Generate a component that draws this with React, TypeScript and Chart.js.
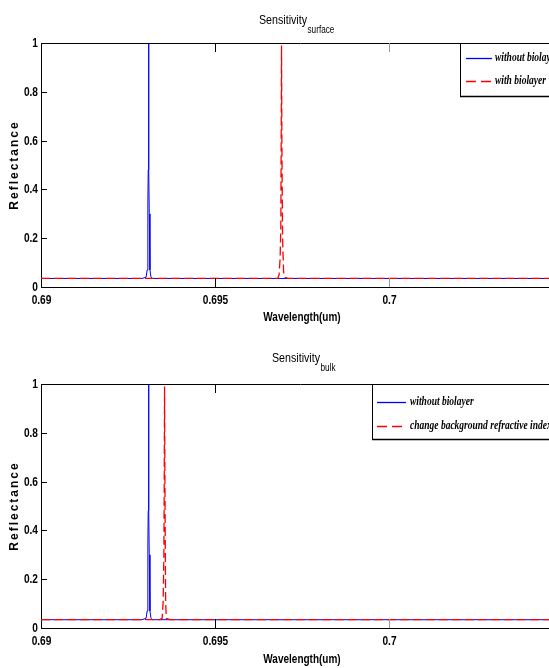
import React, { useEffect, useRef } from 'react';
import { Chart, registerables } from 'chart.js';
Chart.register(...registerables);

const X_MIN = 0.69;
const X_MAX = 0.70491;
const xTickValues = [0.69, 0.695, 0.7];
const yTickValues = [0, 0.2, 0.4, 0.6, 0.8, 1];

// Sensitivity_surface
const surfBlueWl = [0.69, 0.6929, 0.69302, 0.69305, 0.69307, 0.69308, 0.69309, 0.6931, 0.69311, 0.69313, 0.69316, 0.6932, 0.70491];
const surfBlueR = [0.035, 0.035, 0.04, 0.07, 0.34, 0.48, 1.0, 0.48, 0.3, 0.07, 0.04, 0.035, 0.035];
const surfRedWl = [0.69, 0.6968, 0.69684, 0.69687, 0.69689, 0.6969, 0.69691, 0.69692, 0.69694, 0.69697, 0.697, 0.6971, 0.70491];
const surfRedR = [0.035, 0.035, 0.05, 0.12, 0.25, 0.6, 0.99, 0.6, 0.2, 0.06, 0.04, 0.035, 0.035];

// Sensitivity_bulk
const bulkBlueWl = [0.69, 0.6929, 0.69302, 0.69305, 0.69307, 0.69308, 0.69309, 0.6931, 0.69311, 0.69313, 0.69316, 0.6932, 0.70491];
const bulkBlueR = [0.034, 0.034, 0.04, 0.07, 0.34, 0.48, 1.0, 0.48, 0.3, 0.07, 0.04, 0.034, 0.034];
const bulkRedWl = [0.69, 0.6934, 0.69348, 0.69351, 0.69353, 0.69354, 0.69355, 0.69356, 0.69358, 0.6936, 0.6937, 0.70491];
const bulkRedR = [0.034, 0.034, 0.04, 0.11, 0.3, 0.6, 0.99, 0.6, 0.11, 0.04, 0.034, 0.034];

const surfLegend = ['without biolayer', 'with biolayer'];
const bulkLegend = ['without biolayer', 'change background refractive index'];

const SANS = "'Liberation Sans',Arial,sans-serif";
const SERIF = "'Liberation Serif','Times New Roman',serif";

const CW = 560;
const CH = 334;

type Cfg = {
  padTop: number;
  xAxisH: number;
  titleSub: string;
  titleX: number;
  titleY: number;
  xLabelY: number;
  legend: string[];
  legBox: { left: number; top: number; bottom: number; row1: number; row2: number; lineX0: number; lineX1: number; textX: number };
};

function fmtX(v: number) {
  return String(Number(v.toFixed(4)));
}
function fmtY(v: number) {
  if (v === 0) return '0';
  if (v === 1) return '1';
  return v.toFixed(1);
}

function drawScaled(ctx: CanvasRenderingContext2D, text: string, x: number, y: number, font: string, sx: number, align: CanvasTextAlign) {
  ctx.save();
  ctx.font = font;
  ctx.textAlign = align;
  ctx.textBaseline = 'middle';
  ctx.translate(x, y);
  ctx.scale(sx, 1);
  ctx.fillText(text, 0, 0);
  const w = ctx.measureText(text).width * sx;
  ctx.restore();
  return w;
}

function makeDecor(cfg: Cfg) {
  return {
    id: 'decor',
    afterDraw(chart: any) {
      const { ctx, chartArea: a, scales } = chart;
      const xs = scales.x;
      const ys = scales.y;
      ctx.save();
      // top border
      ctx.strokeStyle = '#000';
      ctx.lineWidth = 1;
      ctx.beginPath();
      ctx.moveTo(a.left, Math.round(a.top) + 0.5);
      ctx.lineTo(a.right, Math.round(a.top) + 0.5);
      ctx.stroke();
      // inward x ticks + labels
      ctx.fillStyle = '#000';
      for (const v of xTickValues) {
        const px = Math.round(xs.getPixelForValue(v)) + 0.5;
        if (v !== X_MIN) {
          ctx.strokeStyle = v === 0.7 ? '#9a9a9a' : '#000';
          ctx.beginPath();
          ctx.moveTo(px, a.bottom);
          ctx.lineTo(px, a.bottom - 9);
          ctx.moveTo(px, a.top);
          ctx.lineTo(px, a.top + 9);
          ctx.stroke();
        }
        drawScaled(ctx, fmtX(v), px, a.bottom + 13, `bold 13px ${SANS}`, 0.78, 'center');
      }
      // inward y ticks + labels
      ctx.strokeStyle = '#000';
      for (const v of yTickValues) {
        const py = Math.round(ys.getPixelForValue(v)) + 0.5;
        ctx.beginPath();
        ctx.moveTo(a.left, py);
        ctx.lineTo(a.left + 6, py);
        ctx.stroke();
        drawScaled(ctx, fmtY(v), a.left - 3, py, `bold 13px ${SANS}`, 0.78, 'right');
      }
      // title
      const w = drawScaled(ctx, 'Sensitivity', cfg.titleX, cfg.titleY, `13px ${SANS}`, 0.82, 'left');
      drawScaled(ctx, cfg.titleSub, cfg.titleX + w + 0.5, cfg.titleY + 10, `10px ${SANS}`, 0.82, 'left');
      // x label
      drawScaled(ctx, 'Wavelength(um)', 302, cfg.xLabelY, `bold 12.5px ${SANS}`, 0.8, 'center');
      // y label
      ctx.save();
      ctx.translate(15, (a.top + a.bottom) / 2);
      ctx.rotate(-Math.PI / 2);
      ctx.font = `bold 12px ${SANS}`;
      (ctx as any).letterSpacing = '2px';
      ctx.textAlign = 'center';
      ctx.textBaseline = 'middle';
      ctx.fillText('Reflectance', 0, 0);
      ctx.restore();
      // legend
      const L = cfg.legBox;
      ctx.fillStyle = '#fff';
      ctx.fillRect(L.left, L.top, CW - L.left + 5, L.bottom - L.top);
      ctx.strokeStyle = '#000';
      ctx.lineWidth = 1;
      ctx.strokeRect(L.left + 0.5, L.top + 0.5, CW - L.left + 10, L.bottom - L.top);
      ctx.beginPath();
      ctx.lineWidth = 1.4;
      ctx.moveTo(L.left, L.bottom + 0.5);
      ctx.lineTo(CW, L.bottom + 0.5);
      ctx.stroke();
      ctx.lineWidth = 1.3;
      ctx.strokeStyle = '#0000ff';
      ctx.beginPath();
      ctx.moveTo(L.lineX0, L.row1 + 0.5);
      ctx.lineTo(L.lineX1, L.row1 + 0.5);
      ctx.stroke();
      ctx.strokeStyle = '#ff0000';
      ctx.lineWidth = 1.5;
      ctx.setLineDash([10, 5]);
      ctx.beginPath();
      ctx.moveTo(L.lineX0, L.row2 + 0.5);
      ctx.lineTo(L.lineX1, L.row2 + 0.5);
      ctx.stroke();
      ctx.setLineDash([]);
      ctx.fillStyle = '#000';
      const rows = [L.row1, L.row2];
      cfg.legend.forEach((t, i) => {
        drawScaled(ctx, t, L.textX, rows[i], `italic bold 12.5px ${SERIF}`, 0.76, 'left');
      });
      ctx.restore();
    },
  };
}

function buildChart(canvas: HTMLCanvasElement, blueWl: number[], blueR: number[], redWl: number[], redR: number[], cfg: Cfg) {
  return new Chart(canvas, {
    type: 'line',
    data: {
      datasets: [
        {
          label: cfg.legend[1],
          data: redWl.map((w, i) => ({ x: w, y: redR[i] })),
          borderColor: '#ff0000',
          borderWidth: 1.3,
          borderDash: [9, 4],
          pointRadius: 0,
          tension: 0,
          fill: false,
        },
        {
          label: cfg.legend[0],
          data: blueWl.map((w, i) => ({ x: w, y: blueR[i] })),
          borderColor: '#0000ff',
          borderWidth: 1,
          pointRadius: 0,
          tension: 0,
          fill: false,
        },
      ],
    },
    options: {
      animation: false,
      responsive: false,
      maintainAspectRatio: false,
      events: [],
      layout: { padding: { top: cfg.padTop, left: 0, right: 0, bottom: 0 } },
      plugins: { legend: { display: false }, title: { display: false }, tooltip: { enabled: false } },
      scales: {
        x: {
          type: 'linear',
          min: X_MIN,
          max: X_MAX,
          grid: { display: false, drawTicks: false },
          border: { display: true, color: '#000', width: 1 },
          ticks: { display: false },
          afterBuildTicks: (s: any) => {
            s.ticks = xTickValues.map((v) => ({ value: v }));
          },
          afterFit: (s: any) => {
            s.height = cfg.xAxisH;
          },
        },
        y: {
          type: 'linear',
          min: 0,
          max: 1,
          grid: { display: false, drawTicks: false },
          border: { display: true, color: '#000', width: 1 },
          ticks: { display: false },
          afterBuildTicks: (s: any) => {
            s.ticks = yTickValues.map((v) => ({ value: v }));
          },
          afterFit: (s: any) => {
            s.width = 41;
          },
        },
      },
    },
    plugins: [makeDecor(cfg)],
  } as any);
}

const surfCfg: Cfg = {
  padTop: 43,
  xAxisH: CH - 287,
  titleSub: 'surface',
  titleX: 259,
  titleY: 20,
  xLabelY: 318,
  legend: surfLegend,
  legBox: { left: 460, top: 43, bottom: 96, row1: 58, row2: 81, lineX0: 466, lineX1: 492, textX: 495 },
};

const bulkCfg: Cfg = {
  padTop: 50,
  xAxisH: CH - 294,
  titleSub: 'bulk',
  titleX: 272,
  titleY: 24,
  xLabelY: 326,
  legend: bulkLegend,
  legBox: { left: 372, top: 50, bottom: 105, row1: 68, row2: 92, lineX0: 377, lineX1: 406, textX: 410 },
};

export default function App() {
  const ref1 = useRef<HTMLCanvasElement>(null);
  const ref2 = useRef<HTMLCanvasElement>(null);
  useEffect(() => {
    const c1 = buildChart(ref1.current!, surfBlueWl, surfBlueR, surfRedWl, surfRedR, surfCfg);
    const c2 = buildChart(ref2.current!, bulkBlueWl, bulkBlueR, bulkRedWl, bulkRedR, bulkCfg);
    return () => {
      c1.destroy();
      c2.destroy();
    };
  }, []);
  return (
    <div style={{ position: 'absolute', left: 0, top: 0, width: 549, height: 668, overflow: 'hidden', background: '#fff' }}>
      <div style={{ position: 'absolute', left: 0, top: 0, width: CW, height: CH }}>
        <canvas ref={ref1} width={CW} height={CH} style={{ width: CW, height: CH, display: 'block' }} />
      </div>
      <div style={{ position: 'absolute', left: 0, top: 334, width: CW, height: CH }}>
        <canvas ref={ref2} width={CW} height={CH} style={{ width: CW, height: CH, display: 'block' }} />
      </div>
    </div>
  );
}
